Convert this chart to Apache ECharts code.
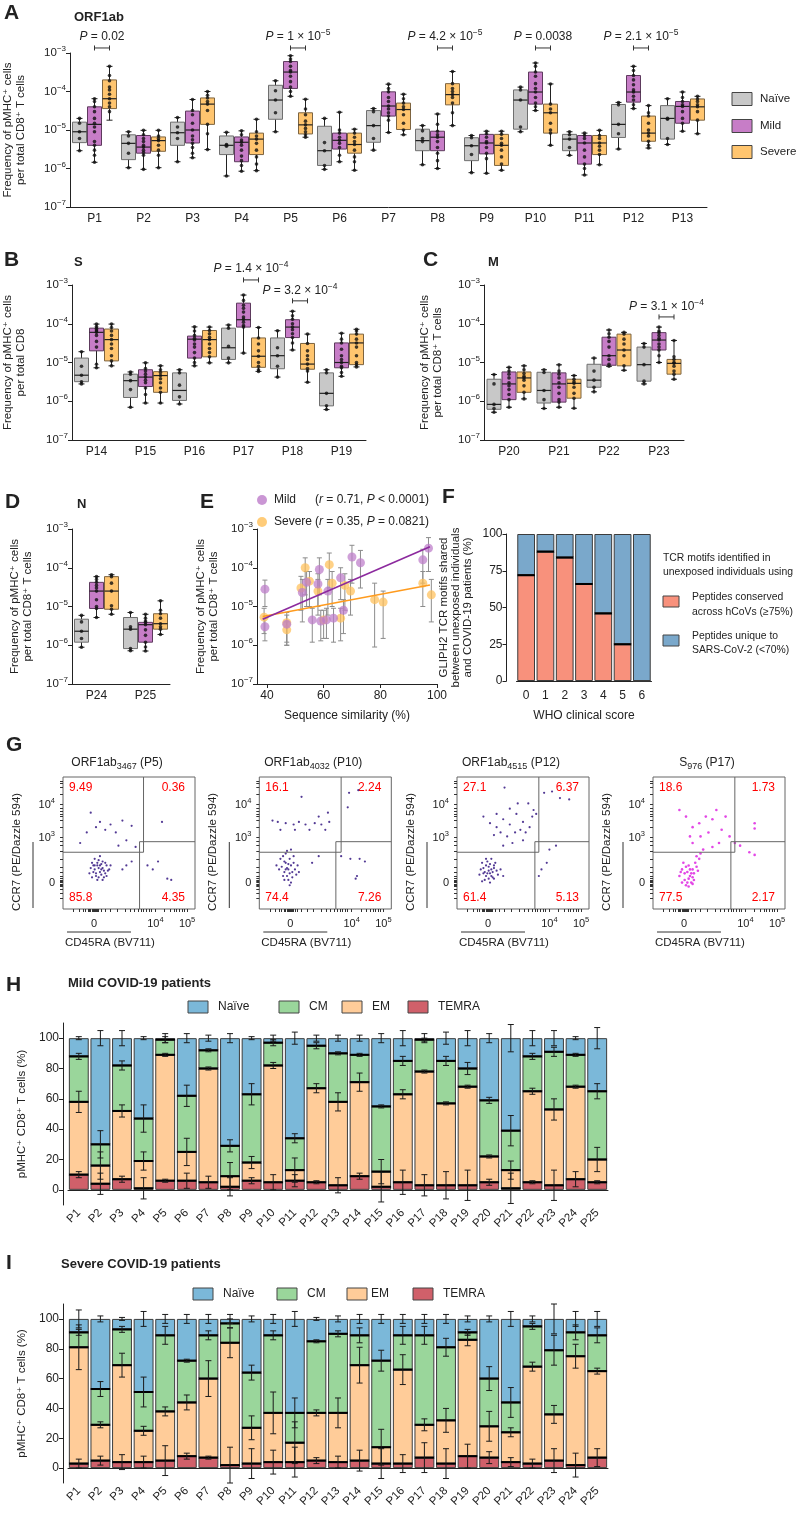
<!DOCTYPE html>
<html><head><meta charset="utf-8">
<script src="https://cdn.jsdelivr.net/npm/echarts@6/dist/echarts.min.js"></script>
<style>html,body{margin:0;padding:0;background:#fff}#c{width:797px;height:1525px}</style>
</head><body><div id="c"></div>
<script>
const FONT = "'Liberation Sans', Arial, 'DejaVu Sans', sans-serif";

// ---------------- Panels A-D : box plots (log scale) ----------------
const catsA = ['P1','P2','P3','P4','P5','P6','P7','P8','P9','P10','P11','P12','P13'];
const catsB = ['P14','P15','P16','P17','P18','P19'];
const catsC = ['P20','P21','P22','P23'];
const catsD = ['P24','P25'];
// [min, Q1, median, Q3, max]
const boxA_naive = [[2.9e-6,4.7e-6,9e-6,1.6e-5,2e-5],[1.05e-6,1.7e-6,4.5e-6,7.5e-6,9e-6],[1.5e-6,4e-6,8.5e-6,1.6e-5,2.1e-5],[6.4e-7,2.3e-6,4e-6,7e-6,8.7e-6],[9e-6,1.9e-5,6e-5,1.45e-4,1.9e-4],[9.5e-7,1.2e-6,2.9e-6,1.25e-5,2e-5],[3e-6,4.8e-6,1.3e-5,3.2e-5,3.6e-5],[1.25e-6,2.9e-6,5.3e-6,1.05e-5,1.3e-5],[7.8e-7,1.6e-6,3.9e-6,6.3e-6,7.2e-6],[9e-6,1.05e-5,6e-5,1.1e-4,1.3e-4],[2.2e-6,2.9e-6,5.8e-6,7.7e-6,9e-6],[3.2e-6,6.4e-6,1.4e-5,4.6e-5,5.2e-5],[4.2e-6,5.8e-6,2e-5,4.3e-5,6.5e-5]];
const boxA_mild = [[1.45e-6,4e-6,1.4e-5,4e-5,6.5e-5],[9.5e-7,2.5e-6,3.6e-6,7.2e-6,9.8e-6],[1.9e-6,4.6e-6,1e-5,3.1e-5,6.2e-5],[8.5e-7,1.5e-6,4.8e-6,6.6e-6,9.5e-6],[7.5e-5,1.2e-4,3.2e-4,6e-4,8.5e-4],[1.5e-6,3.2e-6,5.4e-6,8.3e-6,2.9e-5],[8.6e-6,2.3e-5,4.2e-5,9.8e-5,1.55e-4],[1e-6,2.9e-6,6.5e-6,9.3e-6,2.6e-5],[7.5e-7,2.4e-6,4.6e-6,7.7e-6,9.3e-6],[3.2e-5,4.7e-5,9.7e-5,3.2e-4,5.5e-4],[6.8e-7,1.3e-6,4.6e-6,7.2e-6,8.3e-6],[3.6e-5,5.3e-5,9.7e-5,2.6e-4,4.5e-4],[9.3e-6,1.5e-5,4.1e-5,5.5e-5,9.7e-5]];
const boxA_severe = [[1.8e-5,3.6e-5,6.5e-5,2e-4,4.5e-4],[1.05e-6,2.8e-6,5.3e-6,6.6e-6,9.8e-6],[3.1e-6,1.4e-5,4.7e-5,6.8e-5,1e-4],[8.8e-7,2.3e-6,5.8e-6,8.3e-6,1.9e-5],[6.5e-6,7.9e-6,1.36e-5,2.8e-5,6.3e-5],[9e-7,2.5e-6,4.2e-6,8.3e-6,1.05e-5],[7.5e-6,1.03e-5,3.4e-5,5e-5,8.5e-5],[1.3e-5,4.5e-5,8.3e-5,1.6e-4,3.3e-4],[9e-7,1.2e-6,4e-6,7.7e-6,9.3e-6],[4e-6,8.3e-6,2.8e-5,4.7e-5,1.57e-4],[1.25e-6,2.3e-6,4.6e-6,7.2e-6,9.8e-6],[3.4e-6,5.1e-6,8.3e-6,2.3e-5,4.3e-5],[8e-6,1.8e-5,4e-5,6.4e-5,7.5e-5]];
const dotsA_naive = [[2e-5,1.5e-5,9e-6,6e-6,2.9e-6],[9e-6,7e-6,4.5e-6,2.5e-6,1.05e-6],[2.1e-5,1.2e-5,8.5e-6,6e-6,1.5e-6],[8.7e-6,4.2e-6,4e-6,3.8e-6,6.4e-7],[1.9e-4,1.05e-4,6e-5,2.8e-5,9e-6],[2e-5,4.7e-6,2.9e-6,1.2e-6,9.5e-7],[3.6e-5,3e-5,1.3e-5,6e-6,3e-6],[1.3e-5,9.5e-6,6e-6,5e-6,1.25e-6],[7.2e-6,6.3e-6,3.9e-6,2.3e-6,7.8e-7],[1.3e-4,1.1e-4,6e-5,1.2e-5,9e-6],[9e-6,7.5e-6,5.8e-6,3.5e-6,2.2e-6],[5.2e-5,4.5e-5,1.4e-5,8e-6,3.2e-6],[6.5e-5,2e-5,1.9e-5,6e-6,4.2e-6]];
const dotsA_mild = [[6.5e-5,5.5e-5,4e-5,3e-5,2e-5,1.5e-5,1.2e-5,9e-6,5e-6,4e-6,3e-6,2.2e-6,1.45e-6],[9.8e-6,7.5e-6,6e-6,5e-6,4e-6,3.6e-6,3e-6,2.6e-6,2.2e-6,9.5e-7],[6.2e-5,3.2e-5,2.5e-5,1.5e-5,1e-5,7e-6,5.6e-6,4.5e-6,3.5e-6,2.5e-6,1.9e-6],[9.5e-6,7.5e-6,5.5e-6,4.8e-6,4e-6,3e-6,2.1e-6,1.6e-6,1.2e-6,8.5e-7],[8.5e-4,7e-4,6e-4,4.5e-4,3.5e-4,3.2e-4,2.5e-4,1.8e-4,1.3e-4,1e-4,7.5e-5],[2.9e-5,1e-5,8.3e-6,6.5e-6,5.4e-6,4.5e-6,3.5e-6,2.2e-6,1.5e-6],[1.55e-4,1.2e-4,9.8e-5,7e-5,5.5e-5,4.2e-5,3.5e-5,2.8e-5,2.3e-5,1.8e-5,8.6e-6],[2.6e-5,1.4e-5,9.3e-6,7.5e-6,6.5e-6,5e-6,3.5e-6,2.5e-6,1.6e-6,1e-6],[9.3e-6,8e-6,6.5e-6,5e-6,4.6e-6,3.5e-6,2.5e-6,1.8e-6,7.5e-7],[5.5e-4,4.5e-4,3.2e-4,2.5e-4,1.6e-4,1.2e-4,9.7e-5,7e-5,5e-5,4e-5,3.2e-5],[8.3e-6,7.2e-6,6e-6,4.6e-6,3e-6,2e-6,1.3e-6,1e-6,6.8e-7],[4.5e-4,3.5e-4,2.6e-4,2e-4,1.5e-4,1.1e-4,9.7e-5,7.5e-5,6e-5,4.5e-5,3.6e-5],[9.7e-5,7e-5,5.5e-5,4.5e-5,4.1e-5,3e-5,2e-5,1.5e-5,9.3e-6]];
const dotsA_severe = [[4.5e-4,2.6e-4,1.9e-4,1.3e-4,1.1e-4,8.5e-5,6.5e-5,5e-5,4e-5,3e-5],[9.8e-6,7e-6,6e-6,5.3e-6,4e-6,3e-6,2.2e-6,1.05e-6],[1e-4,8e-5,6.8e-5,5.5e-5,4.7e-5,3.2e-5,1.4e-5,8e-6,3.1e-6],[1.9e-5,9e-6,7e-6,5.8e-6,4.5e-6,3e-6,2e-6,1.3e-6,8.8e-7],[6.3e-5,3.5e-5,2.5e-5,1.7e-5,1.36e-5,1.1e-5,9e-6,7.5e-6,6.5e-6],[1.05e-5,8.3e-6,6.5e-6,5e-6,4.2e-6,3e-6,2e-6,1.5e-6,9e-7],[8.5e-5,6.5e-5,5e-5,4e-5,3.4e-5,2.5e-5,1.5e-5,1e-5,7.5e-6],[3.3e-4,1.6e-4,1.2e-4,1e-4,8.3e-5,7e-5,5e-5,2.8e-5,1.3e-5],[9.3e-6,7.7e-6,6e-6,4.5e-6,4e-6,3e-6,2e-6,1.3e-6,9e-7],[1.57e-4,4.7e-5,3.5e-5,2.8e-5,1.5e-5,1e-5,8.3e-6,4e-6],[9.8e-6,7.2e-6,6e-6,4.6e-6,3.8e-6,3e-6,2.3e-6,1.25e-6],[4.3e-5,2.8e-5,2.3e-5,1.5e-5,1e-5,8.3e-6,7e-6,5.1e-6,4e-6,3.4e-6],[7.5e-5,6.4e-5,5.5e-5,4.5e-5,4e-5,3e-5,1.8e-5,8e-6]];

const boxB_naive = [[2.8e-6,3.2e-6,4.7e-6,1.3e-5,1.9e-5],[7e-7,1.25e-6,3.4e-6,5e-6,5.7e-6],[8.5e-7,1.05e-6,1.9e-6,5.4e-6,6.5e-6],[9.8e-6,1.2e-5,2.4e-5,7.7e-5,9.3e-5],[4.2e-6,6.9e-6,1.5e-5,4.3e-5,6.6e-5],[6.1e-7,7.6e-7,1.6e-6,5.4e-6,6.5e-6]];
const boxB_mild = [[7.3e-6,2e-5,6e-5,7.7e-5,9.8e-5],[9e-7,2.4e-6,4.2e-6,6.5e-6,9.8e-6],[8.2e-6,1.3e-5,4e-5,4.8e-5,8.3e-5],[1.75e-5,8.2e-5,1.27e-4,3.4e-4,5.5e-4],[2.1e-5,4.4e-5,8.2e-5,1.27e-4,2.1e-4],[4.4e-6,7.3e-6,1e-5,3.2e-5,5.7e-5]];
const boxB_severe = [[8.2e-6,1.1e-5,3.9e-5,7.3e-5,9.8e-5],[9e-7,1.7e-6,4.6e-6,5.8e-6,8.2e-6],[9.8e-6,1.4e-5,3.9e-5,6.7e-5,8.2e-5],[5.9e-6,7.5e-6,1.45e-5,4.3e-5,8e-5],[3.1e-6,6.7e-6,9.1e-6,3.1e-5,5.4e-5],[7.7e-6,8.8e-6,3.2e-5,5.4e-5,7.2e-5]];
const dotsB_naive = [[1.9e-5,8e-6,4.7e-6,3.2e-6,2.8e-6],[5.7e-6,5e-6,3.4e-6,2e-6,7e-7],[6.5e-6,5.4e-6,2.6e-6,1.3e-6,8.5e-7],[9.3e-5,7.7e-5,2.6e-5,1.3e-5,9.8e-6],[6.6e-5,2.4e-5,1.5e-5,8e-6,4.2e-6],[6.5e-6,5.4e-6,1.6e-6,7.6e-7,6.1e-7]];
const dotsB_mild = [[9.8e-5,8.5e-5,7.7e-5,7e-5,6.5e-5,6e-5,5e-5,3.5e-5,2.5e-5,9e-6,7.3e-6],[9.8e-6,7e-6,6e-6,5e-6,4.2e-6,3.5e-6,3e-6,2.2e-6,1.5e-6,9e-7],[8.3e-5,6.5e-5,5e-5,4.2e-5,3.8e-5,3e-5,2.5e-5,1.8e-5,1.3e-5,1e-5,8.2e-6],[5.5e-4,4e-4,3e-4,2.5e-4,2e-4,1.5e-4,1.3e-4,1.1e-4,9e-5,8.2e-5,1.75e-5],[2.1e-4,1.6e-4,1.3e-4,1e-4,8.2e-5,7e-5,5.5e-5,4.4e-5,3.2e-5,2.1e-5],[5.7e-5,4e-5,3.2e-5,2.2e-5,1.5e-5,1.2e-5,1e-5,8e-6,7.3e-6,5.5e-6,4.4e-6]];
const dotsB_severe = [[9.8e-5,8e-5,6.5e-5,5e-5,3.9e-5,3e-5,2.3e-5,1.5e-5,1.1e-5,8.2e-6],[8.2e-6,6.5e-6,5.5e-6,4.6e-6,3.8e-6,3e-6,2.2e-6,1.7e-6,9e-7],[8.2e-5,6.7e-5,5.5e-5,4.5e-5,3.9e-5,3e-5,2.3e-5,1.8e-5,1.4e-5,9.8e-6],[8e-5,4.3e-5,3e-5,2e-5,1.45e-5,1e-5,8e-6,6.5e-6,5.9e-6],[5.4e-5,3.1e-5,2e-5,1.5e-5,1.2e-5,9.1e-6,7e-6,6e-6,3.1e-6],[7.2e-5,6.5e-5,5.4e-5,4e-5,3.2e-5,2.5e-5,1.5e-5,1e-5,8.8e-6,7.7e-6]];

const boxC_naive = [[5.2e-7,6.2e-7,8.3e-7,3.7e-6,4.9e-6],[6.5e-7,9e-7,1.9e-6,5.6e-6,6.5e-6],[1.75e-6,2.3e-6,3.5e-6,9e-6,1.3e-5],[2.8e-6,3.3e-6,8.8e-6,2.5e-5,3.1e-5]];
const boxC_mild = [[7e-7,1.1e-6,2.8e-6,5.7e-6,7.5e-6],[7e-7,9.5e-7,2.8e-6,5.4e-6,8.7e-6],[8e-6,8.5e-6,1.5e-5,4.5e-5,6.9e-5],[1e-5,2.1e-5,3.8e-5,5.9e-5,8.2e-5]];
const boxC_severe = [[1.15e-6,1.7e-6,4e-6,5.7e-6,8.2e-6],[6.6e-7,1.2e-6,2.9e-6,3.7e-6,4.6e-6],[6.3e-6,8.2e-6,2.1e-5,5.4e-5,6e-5],[3.7e-6,5e-6,9.5e-6,1.2e-5,3.7e-5]];
const dotsC_naive = [[4.9e-6,2.8e-6,8.3e-7,6.5e-7,5.2e-7],[6.5e-6,5.5e-6,1.9e-6,1.1e-6,6.5e-7],[1.3e-5,6e-6,3.5e-6,2.3e-6,1.75e-6],[3.1e-5,2.5e-5,8.8e-6,3.3e-6,2.8e-6]];
const dotsC_mild = [[7.5e-6,6e-6,5e-6,4e-6,3e-6,2.5e-6,2e-6,1.5e-6,1.1e-6,7e-7],[8.7e-6,6e-6,5e-6,4e-6,3e-6,2.3e-6,1.6e-6,1.1e-6,9.5e-7,7e-7],[6.9e-5,5.5e-5,4.5e-5,3.5e-5,2.5e-5,1.5e-5,1.2e-5,9e-6,8e-6],[8.2e-5,6.5e-5,5.9e-5,5e-5,4.2e-5,3.8e-5,3e-5,2.5e-5,2.1e-5,1.5e-5,1e-5]];
const dotsC_severe = [[8.2e-6,6.5e-6,5.2e-6,4.4e-6,4e-6,3.5e-6,2.5e-6,1.7e-6,1.15e-6],[4.6e-6,3.7e-6,3.2e-6,2.9e-6,2.3e-6,1.6e-6,1.2e-6,6.6e-7],[6e-5,5.4e-5,4e-5,3e-5,2.1e-5,1.5e-5,8.2e-6,6.3e-6],[3.7e-5,1.4e-5,1.2e-5,1e-5,9.5e-6,8e-6,6e-6,5e-6,3.7e-6]];

const boxD_naive = [[8.9e-7,1.2e-6,2.3e-6,4.7e-6,5.9e-6],[7.2e-7,8.2e-7,2.6e-6,5.2e-6,7e-6]];
const boxD_mild = [[5.2e-6,8.9e-6,2.5e-5,4.2e-5,5.9e-5],[7.1e-7,1.2e-6,3.4e-6,3.9e-6,6.3e-6]];
const boxD_severe = [[6.3e-6,8.5e-6,2.5e-5,5.9e-5,6.6e-5],[1.9e-6,2.6e-6,3.6e-6,6.5e-6,1.4e-5]];
const dotsD_naive = [[5.9e-6,4e-6,2.3e-6,1.5e-6,8.9e-7],[7e-6,3e-6,2.6e-6,8.2e-7,7.2e-7]];
const dotsD_mild = [[5.9e-5,5e-5,4.2e-5,3.5e-5,3e-5,2.5e-5,1.5e-5,1e-5,8.9e-6,5.2e-6],[6.3e-6,5e-6,4.2e-6,3.9e-6,3.4e-6,2.5e-6,1.8e-6,1.2e-6,9e-7,7.1e-7]];
const dotsD_severe = [[6.6e-5,5.9e-5,4e-5,2.5e-5,1.05e-5,8.5e-6,6.3e-6],[1.4e-5,8e-6,6.5e-6,5e-6,3.6e-6,3e-6,2.6e-6,1.9e-6]];

// P value annotations: category index and label (mantissa|exponent)
const annA_cat = [0,4,7,9,11];
const annA_txt = ['0.02','1 × 10|−5','4.2 × 10|−5','0.0038','2.1 × 10|−5'];
const annB_cat = [3,4];
const annB_txt = ['1.4 × 10|−4','3.2 × 10|−4'];
const annC_cat = [3];
const annC_txt = ['3.1 × 10|−4'];

// ---------------- Panel E ----------------
// [sequence similarity %, frequency, lower, upper]
const eMild = [[39.3,3e-6,1.3e-6,5e-6],[39.3,2.8e-5,1e-5,4.8e-5],[47,3.5e-6,1.2e-6,6e-6],[52.5,2.3e-5,4e-6,5e-5],[54,4.2e-5,1e-5,8e-5],[56,4.5e-6,1.2e-6,9e-6],[58,3.8e-5,1e-5,7e-5],[58.5,9e-5,2e-5,1.8e-4],[59,4.2e-6,1.3e-6,8e-6],[61,4.5e-6,1.5e-6,9e-6],[61.5,2.5e-5,6e-6,5e-5],[63.5,5e-6,1.2e-6,9e-6],[66,5.5e-5,1.5e-5,1e-4],[67,8e-6,2e-6,1.5e-5],[70,1.9e-4,4e-5,3.8e-4],[73,1.35e-4,3e-5,2.8e-4],[95,1.6e-4,4e-5,3e-4],[97,3.2e-4,8e-5,6e-4]];
const eSevere = [[39,5.3e-6,2e-6,9e-6],[47,2.5e-6,1e-6,4e-6],[47,3.8e-6,1e-6,7e-6],[52,3e-5,8e-6,6e-5],[53.5,1e-4,2e-5,1.8e-4],[55,4.5e-5,1e-5,8e-5],[58,2.5e-5,6e-6,5e-5],[60,4.5e-6,1.5e-6,8e-6],[62,1.2e-4,3e-5,2.4e-4],[63,4e-5,1e-5,8e-5],[66,5e-6,1.3e-6,9e-6],[67.5,3.5e-5,8e-6,7e-5],[69.5,2.5e-5,6e-6,5e-5],[78,1.5e-5,9e-7,4e-5],[81,1.3e-5,1.5e-6,2.5e-5],[95,4e-5,1e-5,8e-5],[98,2e-5,4e-6,5e-5]];
const fitMild = [[38.5,4.7e-6],[97.5,3.5e-4]];
const fitSevere = [[38.5,5.5e-6],[97.5,3.6e-5]];

// ---------------- Panel F ----------------
const whoScore = ['0','1','2','3','4','5','6'];
const fConserved = [72,88,84,66,46,25,0];

// ---------------- Panel G : flow plots (display units 0-100) ----------------
const flowTitles = [['ORF1ab','3467',' (P5)'],['ORF1ab','4032',' (P10)'],['ORF1ab','4515',' (P12)'],['S','976',' (P17)']];
const flowQuad = [['9.49','0.36','85.8','4.35'],['16.1','2.24','74.4','7.26'],['27.1','6.37','61.4','5.13'],['18.6','1.73','77.5','2.17']];
const flowGateX = [[61,58],[62,58],[62,59],[62,59]];
const flow1 = [[22,35],[24,30],[26,33],[28,28],[30,31],[32,27],[25,25],[27,37],[29,34],[31,24],[33,33],[23,28],[26,22],[28,40],[30,36],[34,29],[21,31],[24,38],[29,26],[32,35],[27,31],[25,27],[30,22],[35,30],[20,27],[26,35],[31,29],[28,33],[23,33],[33,25],[29,30],[27,24],[24,33],[36,33],[22,24],[21,73],[13,50],[28,66],[36,64],[40,58],[45,67],[48,52],[52,63],[18,58],[25,62],[32,60],[55,47],[42,48],[48,33],[52,36],[45,30],[75,66],[64,33],[72,36],[79,23],[82,22],[68,30]];
const flow2 = [[18,40],[20,35],[22,30],[24,33],[19,28],[21,25],[23,38],[25,28],[17,32],[22,22],[24,45],[20,42],[26,35],[21,31],[19,36],[23,27],[25,24],[27,30],[18,25],[22,34],[24,20],[20,30],[16,38],[28,26],[23,18],[21,44],[15,30],[26,40],[29,33],[19,22],[13,33],[30,28],[10,67],[14,66],[20,65],[26,64],[30,66],[35,64],[38,60],[42,65],[47,64],[50,60],[53,66],[16,60],[27,60],[45,70],[52,73],[32,85],[67,77],[68,88],[75,90],[62,40],[69,38],[74,25],[73,23],[76,38],[80,36],[45,40],[40,35]];
const flow3 = [[18,30],[20,27],[22,33],[24,29],[26,25],[28,31],[21,22],[23,36],[25,20],[27,28],[19,35],[22,25],[24,32],[26,38],[28,23],[30,29],[20,31],[23,27],[25,34],[27,24],[21,28],[24,23],[26,30],[29,35],[31,26],[17,26],[22,38],[25,27],[33,30],[35,25],[19,21],[28,33],[20,70],[25,65],[30,62],[35,68],[40,64],[45,72],[48,60],[50,66],[52,58],[55,62],[57,70],[58,75],[60,72],[33,58],[38,55],[28,56],[44,58],[42,50],[35,48],[50,52],[46,80],[40,76],[54,80],[36,92],[30,72],[66,88],[72,89],[78,84],[85,83],[70,45],[75,48],[64,30],[62,25],[68,35]];
const flow4 = [[20,25],[22,30],[24,22],[26,28],[28,25],[30,30],[25,18],[27,33],[29,20],[31,27],[23,35],[33,32],[35,38],[27,23],[24,27],[26,20],[28,30],[30,24],[32,35],[22,20],[25,32],[29,27],[31,22],[34,29],[36,42],[38,45],[33,40],[21,28],[27,17],[30,19],[20,75],[25,70],[30,62],[35,65],[40,70],[45,68],[48,75],[52,60],[55,70],[58,55],[42,58],[36,55],[30,50],[50,50],[45,47],[28,55],[77,61],[77,65],[73,43],[77,41],[66,48],[62,50]];

// ---------------- Panels H and I : stacked subsets ----------------
const patients = ['P1','P2','P3','P4','P5','P6','P7','P8','P9','P10','P11','P12','P13','P14','P15','P16','P17','P18','P19','P20','P21','P22','P23','P24','P25'];
// cumulative tops: TEMRA, EM, CM (Naïve up to 100)
const mildTEMRA = [10,4,7,1,6,6,5,2,6,5,6,5,3,9,2,5,3,3,3,5,1,5,3,7,5];
const mildEM    = [58,16,52,19,89,25,80,9,18,82,13,67,58,71,12,63,78,57,68,22,13,65,53,68,20];
const mildCM    = [88,30,82,47,99,62,92,29,63,97,34,95,90,89,55,85,99,85,80,59,39,88,91,89,65];
// error half-widths at TEMRA, EM, CM, Naïve tops
const mildErr = [[2,7,2,1],[7,9,9,5],[2,4,3,5],[7,6,9,1],[1,1,2,3],[5,9,7,3],[4,1,1,2],[6,9,4,3],[2,4,7,1],[5,2,2,2],[4,8,3,4],[1,3,2,2],[5,6,1,2],[2,6,1,2],[10,8,1,3],[8,3,3,5],[7,1,1,3],[9,1,3,4],[10,1,4,5],[2,1,2,3],[10,6,10,9],[1,2,2,5],[10,7,3,5],[5,1,1,1],[1,8,5,7]];
const sevTEMRA = [3,5,4,4,5,8,7,2,3,4,4,5,4,5,3,3,7,3,8,7,4,3,5,2,7];
const sevEM    = [81,29,69,25,38,44,60,84,27,37,17,37,37,69,14,66,29,32,86,28,24,68,36,75,65];
const sevCM    = [91,53,93,51,89,72,89,97,64,89,37,85,90,89,72,89,89,81,91,60,44,95,79,91,89];
const sevErr = [[3,15,2,6],[3,2,5,2],[5,8,2,1],[4,3,10,5],[10,3,6,3],[2,5,1,3],[1,12,3,3],[12,10,3,3],[10,8,5,2],[8,14,3,3],[10,14,10,5],[2,2,1,1],[4,10,2,2],[7,12,5,3],[10,12,7,3],[6,10,6,3],[10,4,6,3],[10,8,6,3],[8,4,2,2],[4,10,8,2],[3,3,10,5],[3,3,2,2],[8,6,10,10],[8,8,5,5],[6,2,5,5]];

// ======================================================================
const COLORS = {naive:'#C8C8C8', mild:'#C77DC7', severe:'#FFC56F'};
const BOX_FILL = [COLORS.naive, COLORS.mild, COLORS.severe];
const BOX_STROKE = ['#6f6f6f','#5d3a5d','#7d6440'];
const GROUP_OFF = [-15, 0, 15];
const BOX_W = 14;
const AX = '#222';

const richAxis = {
  b:{fontSize:11.5, fontFamily:FONT, color:AX, lineHeight:14},
  s:{fontSize:8, fontFamily:FONT, color:AX, lineHeight:10, padding:[0,0,8,0]}
};
const richZ = {
  i:{fontSize:12, fontFamily:FONT, fontStyle:'italic', fill:AX, lineHeight:14},
  t:{fontSize:12, fontFamily:FONT, fill:AX, lineHeight:14},
  s:{fontSize:8.5, fontFamily:FONT, fill:AX, lineHeight:10, padding:[0,0,8,0]}
};
function pRich(str){
  const parts = str.split('|');
  return '{i|P}{t| = ' + parts[0] + '}' + (parts.length > 1 ? '{s|' + parts[1] + '}' : '');
}

function boxRender(g){
  return function(params, api){
    const i = api.value(0);
    const ys = [1,2,3,4,5].map(k => api.coord([i, api.value(k)])[1]);
    const cx = api.coord([i, api.value(3)])[0] + GROUP_OFF[g];
    const h = BOX_W/2;
    const ln = (x1,y1,x2,y2,w) => ({type:'line', shape:{x1,y1,x2,y2}, style:{stroke:'#222', lineWidth:w||1}});
    return {type:'group', children:[
      ln(cx, ys[4], cx, ys[0]),
      ln(cx-3, ys[4], cx+3, ys[4]),
      ln(cx-3, ys[0], cx+3, ys[0]),
      {type:'rect', shape:{x:cx-h, y:ys[3], width:BOX_W, height:ys[1]-ys[3]}, style:{fill:BOX_FILL[g], stroke:BOX_STROKE[g], lineWidth:1}},
      ln(cx-h, ys[2], cx+h, ys[2], 1.2)
    ]};
  };
}
function annSeries(g, cats, txts, yText, yBar){
  return {type:'custom', xAxisIndex:g, yAxisIndex:g, z:6, silent:true, clip:false,
    data: cats.map((c,i) => [c, yText[i], yBar[i]]),
    encode:{x:0, y:1},
    renderItem:(params, api) => {
      const c = api.value(0);
      const pb = api.coord([c, api.value(2)]);
      const pt = api.coord([c, api.value(1)]);
      const x1 = pb[0] + GROUP_OFF[1], x2 = pb[0] + GROUP_OFF[2], yb = pb[1];
      const st = {stroke:'#333', lineWidth:1};
      return {type:'group', children:[
        {type:'line', shape:{x1:x1, y1:yb, x2:x2, y2:yb}, style:st},
        {type:'line', shape:{x1:x1, y1:yb-2.5, x2:x1, y2:yb+2.5}, style:st},
        {type:'line', shape:{x1:x2, y1:yb-2.5, x2:x2, y2:yb+2.5}, style:st},
        {type:'text', x:(x1+x2)/2, y:pt[1], style:{text:pRich(txts[params.dataIndex]), align:'center', verticalAlign:'middle', rich:richZ}}
      ]};
    }};
}
function boxPanel(g, boxes, dots){
  const out = [];
  boxes.forEach((bx, k) => out.push({type:'custom', xAxisIndex:g, yAxisIndex:g, z:2, silent:true,
    data: bx.map((d,i) => [i].concat(d)), encode:{x:0, y:[1,2,3,4,5]}, renderItem: boxRender(k)}));
  dots.forEach((ds, k) => {
    const data = [];
    ds.forEach((arr,i) => arr.forEach(v => data.push([i, v])));
    out.push({type:'scatter', xAxisIndex:g, yAxisIndex:g, z:3, silent:true, symbolSize:3.6,
      symbolOffset:[GROUP_OFF[k],0], itemStyle:{color:'#111'}, data});
  });
  return out;
}
function logY(g, name, gap){
  return {type:'log', logBase:10, min:1e-7, max:1e-3, gridIndex:g,
    axisLine:{show:true, lineStyle:{color:AX}}, axisTick:{show:true, length:4, lineStyle:{color:AX}},
    splitLine:{show:false}, minorTick:{show:false},
    axisLabel:{margin:4, formatter: v => { const e = Math.round(Math.log10(v)); return '{b|10}{s|−' + Math.abs(e) + '}'; }, rich:richAxis},
    name, nameLocation:'middle', nameGap:gap, nameRotate:90,
    nameTextStyle:{fontSize:11.5, fontFamily:FONT, color:AX, lineHeight:13.5}};
}
function catX(g, cats){
  return {type:'category', data:cats, gridIndex:g,
    axisLine:{lineStyle:{color:AX}}, axisTick:{alignWithLabel:true, length:4, lineStyle:{color:AX}},
    axisLabel:{fontSize:12, fontFamily:FONT, color:AX, margin:6}};
}
function errSeries(g, pts){
  return {type:'custom', xAxisIndex:g, yAxisIndex:g, z:2, silent:true, data:pts, encode:{x:0, y:[2,3]},
    renderItem:(p, api) => {
      const x = api.value(0);
      const a = api.coord([x, api.value(3)]), b = api.coord([x, api.value(2)]);
      const st = {stroke:'#8c8c8c', lineWidth:1};
      return {type:'group', children:[
        {type:'line', shape:{x1:a[0], y1:a[1], x2:b[0], y2:b[1]}, style:st},
        {type:'line', shape:{x1:a[0]-2.5, y1:a[1], x2:a[0]+2.5, y2:a[1]}, style:st},
        {type:'line', shape:{x1:b[0]-2.5, y1:b[1], x2:b[0]+2.5, y2:b[1]}, style:st}]};
    }};
}
function stackOverlay(g, t, e, c, err){
  return {type:'custom', xAxisIndex:g, yAxisIndex:g, z:5, silent:true, clip:false,
    data: t.map((v,i) => [i, v, e[i], c[i], 100, err[i][0], err[i][1], err[i][2], err[i][3]]),
    encode:{x:0, y:[1,2,3,4]},
    renderItem:(params, api) => {
      const i = api.value(0);
      const bw = api.size([1,0])[0] * 0.92;
      const cx = api.coord([i, 0])[0];
      const ch = [];
      for (let k = 0; k < 4; k++){
        const v = api.value(1+k), er = api.value(5+k);
        const y = api.coord([i, v])[1];
        if (k < 3) ch.push({type:'line', shape:{x1:cx-bw/2, y1:y, x2:cx+bw/2, y2:y}, style:{stroke:'#000', lineWidth:2}});
        if (er > 0){
          const ya = api.coord([i, v+er])[1], yb = api.coord([i, v-er])[1];
          const st = {stroke:'#1a1a1a', lineWidth:1};
          ch.push({type:'line', shape:{x1:cx, y1:ya, x2:cx, y2:yb}, style:st});
          ch.push({type:'line', shape:{x1:cx-3, y1:ya, x2:cx+3, y2:ya}, style:st});
          ch.push({type:'line', shape:{x1:cx-3, y1:yb, x2:cx+3, y2:yb}, style:st});
        }
      }
      return {type:'group', children:ch};
    }};
}
function stackBars(g, t, e, c){
  const seg = [t, t.map((v,i) => e[i]-v), e.map((v,i) => c[i]-v), c.map(v => 100-v)];
  const cols = ['#D0606A','#FFCC99','#9AD69B','#7BB8D9'];
  return seg.map((d,k) => ({type:'bar', xAxisIndex:g, yAxisIndex:g, stack:'s'+g, data:d, barCategoryGap:'8%',
    silent:true, itemStyle:{color:cols[k], borderColor:'#3c3c3c', borderWidth:1}}));
}

// ---------------- grids & axes ----------------
const FLOW_LEFT = [63, 259.3, 457, 653];
const NB = {outerBoundsMode:'none', containLabel:false};
const grids = [
  {left:70, top:53, width:637, height:154},
  {left:72, top:285, width:294, height:155},
  {left:484, top:285, width:200, height:155},
  {left:72, top:529, width:98, height:155},
  {left:257, top:529, width:180, height:155},
  {left:516.5, top:534, width:135, height:147}
];
FLOW_LEFT.forEach(l => grids.push({left:l, top:777, width:132, height:132, show:true, borderColor:'#666', borderWidth:1, backgroundColor:'transparent'}));
grids.push({left:68, top:1023, width:540, height:182});
grids.push({left:68, top:1304, width:540, height:179});
grids.forEach(g => Object.assign(g, NB));

const yLab2 = 'Frequency of pMHC⁺ cells\nper total CD8⁺ T cells';
const xAxes = [catX(0, catsA), catX(1, catsB), catX(2, catsC), catX(3, catsD),
  {type:'value', gridIndex:4, min:36.5, max:100, axisLine:{lineStyle:{color:AX}}, splitLine:{show:false},
   axisTick:{customValues:[40,60,80,100], length:4, lineStyle:{color:AX}},
   axisLabel:{customValues:[40,60,80,100], fontSize:12, fontFamily:FONT, color:AX, margin:6},
   name:'Sequence similarity (%)', nameLocation:'middle', nameGap:26, nameTextStyle:{fontSize:12, fontFamily:FONT, color:AX}},
  {type:'category', gridIndex:5, data:whoScore, offset:3, axisLine:{lineStyle:{color:AX}},
   axisTick:{alignWithLabel:true, length:4, lineStyle:{color:AX}},
   axisLabel:{fontSize:12, fontFamily:FONT, color:AX, margin:6},
   name:'WHO clinical score', nameLocation:'middle', nameGap:26, nameTextStyle:{fontSize:12, fontFamily:FONT, color:AX}}
];
const yAxes = [logY(0, yLab2, 42), logY(1, 'Frequency of pMHC⁺ cells\nper total CD8', 44), logY(2, yLab2, 39),
  logY(3, yLab2, 37), logY(4, yLab2, 36),
  {type:'value', gridIndex:5, min:0, max:100, interval:25, offset:10, axisLine:{show:true, lineStyle:{color:AX}},
   axisTick:{show:true, length:4, lineStyle:{color:AX}}, splitLine:{show:false},
   axisLabel:{fontSize:12, fontFamily:FONT, color:AX, margin:4},
   name:'GLIPH2 TCR motifs shared\nbetween unexposed individuals\nand COVID-19 patients (%)', nameLocation:'middle', nameGap:33, nameRotate:90,
   nameTextStyle:{fontSize:11.5, fontFamily:FONT, color:AX, lineHeight:12}}
];
const flowRich = {b:{fontSize:11, fontFamily:FONT, color:AX, lineHeight:13}, s:{fontSize:7.5, fontFamily:FONT, color:AX, lineHeight:9, padding:[0,0,7,0]}};
for (let k = 0; k < 4; k++){
  const g = 6 + k;
  xAxes.push({type:'value', gridIndex:g, min:0, max:100, axisLine:{show:false}, splitLine:{show:false},
    axisTick:{show:true, inside:false, length:3, lineStyle:{color:'#333'}, customValues:[8,12,15,17,19,20,21,22,22.5,23,23.5,24,24.5,25,26,27,29,32,36,41,47,51,54,57,59,61,63,65,67,70,77,81,84,86,88,90,92,94]},
    axisLabel:{customValues:[23.5,70,94], margin:8, rich:flowRich, formatter: v => v < 30 ? '{b|0}' : (v < 80 ? '{b|10}{s|4}' : '{b|10}{s|5}')}});
  yAxes.push({type:'value', gridIndex:g, min:0, max:100, axisLine:{show:false}, splitLine:{show:false},
    axisTick:{show:true, length:3, lineStyle:{color:'#333'}, customValues:[8,12,15,17,18,19,20,21,22,23,25,28,32,38,44,48,51,54,62,67,70,72,74,76,79,87,92,95,97]},
    axisLabel:{customValues:[20,54,79], margin:8, rich:flowRich, formatter: v => v < 30 ? '{b|0}' : (v < 60 ? '{b|10}{s|3}' : '{b|10}{s|4}')}});
}
[10,11].forEach(g => {
  xAxes.push({type:'category', gridIndex:g, data:patients, axisLine:{lineStyle:{color:AX}},
    axisTick:{alignWithLabel:true, length:5, lineStyle:{color:AX}},
    axisLabel:{rotate:45, fontSize:11.5, fontFamily:FONT, color:AX, margin:6, interval:0}});
  yAxes.push({type:'value', gridIndex:g, min:-10, max:110, offset:5, axisLine:{show:true, lineStyle:{color:AX}},
    splitLine:{show:false}, axisTick:{show:true, length:4, lineStyle:{color:AX}, customValues:[0,20,40,60,80,100]},
    axisLabel:{customValues:[0,20,40,60,80,100], fontSize:12, fontFamily:FONT, color:AX, margin:4},
    name:'pMHC⁺ CD8⁺ T cells (%)', nameLocation:'middle', nameGap:30, nameRotate:90,
    nameTextStyle:{fontSize:11.5, fontFamily:FONT, color:AX}});
});

// ---------------- series ----------------
let series = [];
series = series.concat(boxPanel(0, [boxA_naive, boxA_mild, boxA_severe], [dotsA_naive, dotsA_mild, dotsA_severe]));
series.push(annSeries(0, annA_cat, annA_txt, annA_cat.map(() => 2.7e-3), annA_cat.map(() => 1.35e-3)));
series = series.concat(boxPanel(1, [boxB_naive, boxB_mild, boxB_severe], [dotsB_naive, dotsB_mild, dotsB_severe]));
series.push(annSeries(1, annB_cat, annB_txt, [2.6e-3, 7e-4], [1.35e-3, 3.9e-4]));
series = series.concat(boxPanel(2, [boxC_naive, boxC_mild, boxC_severe], [dotsC_naive, dotsC_mild, dotsC_severe]));
series.push(annSeries(2, annC_cat, annC_txt, [2.7e-4], [1.5e-4]));
series = series.concat(boxPanel(3, [boxD_naive, boxD_mild, boxD_severe], [dotsD_naive, dotsD_mild, dotsD_severe]));
// E
series.push(errSeries(4, eMild), errSeries(4, eSevere));
series.push({type:'scatter', xAxisIndex:4, yAxisIndex:4, z:3, silent:true, symbolSize:9, data:eSevere.map(p => [p[0], p[1]]), itemStyle:{color:'#FFBF57', opacity:0.72}});
series.push({type:'scatter', xAxisIndex:4, yAxisIndex:4, z:3, silent:true, symbolSize:9, data:eMild.map(p => [p[0], p[1]]), itemStyle:{color:'#BD7CC9', opacity:0.72}});
series.push({type:'line', xAxisIndex:4, yAxisIndex:4, z:4, silent:true, symbol:'none', data:fitSevere, lineStyle:{color:'#FF9B1E', width:1.6}});
series.push({type:'line', xAxisIndex:4, yAxisIndex:4, z:4, silent:true, symbol:'none', data:fitMild, lineStyle:{color:'#8C2A9E', width:1.6}});
// F
series.push({type:'bar', xAxisIndex:5, yAxisIndex:5, stack:'f', silent:true, data:fConserved, barCategoryGap:'8%', itemStyle:{color:'#F8917C', borderColor:'#3c3c3c', borderWidth:1}});
series.push({type:'bar', xAxisIndex:5, yAxisIndex:5, stack:'f', silent:true, data:fConserved.map(v => 100 - v), barCategoryGap:'8%', itemStyle:{color:'#7AA8CB', borderColor:'#3c3c3c', borderWidth:1}});
series.push({type:'custom', xAxisIndex:5, yAxisIndex:5, z:5, silent:true, data:fConserved.map((v,i) => [i, v]), encode:{x:0, y:1},
  renderItem:(p, api) => {
    const v = api.value(1);
    if (v <= 0 || v >= 100) return null;
    const c = api.coord([api.value(0), v]); const bw = api.size([1,0])[0] * 0.92;
    return {type:'line', shape:{x1:c[0]-bw/2, y1:c[1], x2:c[0]+bw/2, y2:c[1]}, style:{stroke:'#000', lineWidth:2}};
  }});
// G
const flowData = [flow1, flow2, flow3, flow4];
flowData.forEach((d,k) => {
  const g = 6 + k;
  series.push({type:'scatter', xAxisIndex:g, yAxisIndex:g, silent:true, symbolSize:k === 3 ? 2.6 : 2.2, data:d,
    itemStyle:{color:k === 3 ? '#E033E3' : '#3F2388', opacity:0.9}});
  series.push({type:'line', xAxisIndex:g, yAxisIndex:g, silent:true, symbol:'none', data:[[0,43],[flowGateX[k][0],43],[flowGateX[k][0],100]], lineStyle:{color:'#666', width:1}});
  series.push({type:'line', xAxisIndex:g, yAxisIndex:g, silent:true, symbol:'none', data:[[flowGateX[k][1],0],[flowGateX[k][1],51],[100,51]], lineStyle:{color:'#666', width:1}});
});
// H, I
series = series.concat(stackBars(10, mildTEMRA, mildEM, mildCM));
series.push(stackOverlay(10, mildTEMRA, mildEM, mildCM, mildErr));
series = series.concat(stackBars(11, sevTEMRA, sevEM, sevCM));
series.push(stackOverlay(11, sevTEMRA, sevEM, sevCM, sevErr));

// ---------------- graphic text ----------------
const G = [];
function T(x, y, text, o){
  o = o || {};
  G.push({type:'text', x, y, rotation:o.rot || 0, silent:true, style:{text, fill:o.color || AX,
    font:(o.italic ? 'italic ' : '') + (o.bold ? 'bold ' : '') + (o.size || 12) + 'px ' + FONT,
    align:o.align || 'left', verticalAlign:o.va || 'middle', rich:o.rich}});
}
function R(x, y, w, h, fill){ G.push({type:'rect', silent:true, shape:{x, y, width:w, height:h}, style:{fill, stroke:'#444', lineWidth:1}}); }
function L(x1, y1, x2, y2, c){ G.push({type:'line', silent:true, shape:{x1, y1, x2, y2}, style:{stroke:c || '#333', lineWidth:1}}); }
// panel letters and titles
[['A',4,13],['B',4,260],['C',423,260],['D',5,502],['E',200,502],['F',442,497],['G',6,745],['H',6,985],['I',6,1263]].forEach(a => T(a[1], a[2], a[0], {bold:true, size:21}));
T(74, 17, 'ORF1ab', {bold:true, size:13});
T(74, 262, 'S', {bold:true, size:13});
T(488, 262, 'M', {bold:true, size:13});
T(77, 504, 'N', {bold:true, size:13});
T(68, 983, 'Mild COVID-19 patients', {bold:true, size:13});
T(61, 1264, 'Severe COVID-19 patients', {bold:true, size:13});
// legend A
[['Naïve',99],['Mild',126],['Severe',152]].forEach((it,k) => { R(732, it[1]-6.5, 20, 13, BOX_FILL[k]); T(760, it[1], it[0], {size:11.5}); });
// legend E
G.push({type:'circle', silent:true, shape:{cx:262, cy:500, r:5}, style:{fill:'#BD7CC9', opacity:0.8}});
G.push({type:'circle', silent:true, shape:{cx:262, cy:522, r:5}, style:{fill:'#FFBF57', opacity:0.8}});
T(274, 500, 'Mild', {size:12}); T(274, 522, 'Severe', {size:12});
const richR = {n:{fontSize:12, fontFamily:FONT, fill:AX}, i:{fontSize:12, fontFamily:FONT, fontStyle:'italic', fill:AX}};
T(315, 500, '{n|(}{i|r}{n| = 0.71, }{i|P}{n| < 0.0001)}', {rich:richR});
T(315, 522, '{n|(}{i|r}{n| = 0.35, }{i|P}{n| = 0.0821)}', {rich:richR});
// legend F
T(663, 558, 'TCR motifs identified in', {size:10.4});
T(663, 572, 'unexposed individuals using', {size:10.4});
R(663, 596, 16, 11, '#F8917C'); T(692, 597, 'Peptides conserved', {size:10.4}); T(692, 612, 'across hCoVs (≥75%)', {size:10.4});
R(663, 635, 16, 11, '#7AA8CB'); T(692, 636, 'Peptides unique to', {size:10.4}); T(692, 650, 'SARS-CoV-2 (<70%)', {size:10.4});
// legends H and I
const subsetCols = ['#7BB8D9','#9AD69B','#FFCC99','#D0606A'];
const subsetNames = ['Naïve','CM','EM','TEMRA'];
[[188,279,342,408],[193,277,347,413]].forEach((xs,row) => {
  const y = row === 0 ? 1007 : 1294;
  xs.forEach((x,k) => { R(x, y-6, 20, 12, subsetCols[k]); T(x+(k === 2 && row === 1 ? 24 : 30), y, subsetNames[k], {size:12}); });
});
// flow plot annotations
const subRich = {n:{fontSize:12, fontFamily:FONT, fill:AX}, d:{fontSize:9, fontFamily:FONT, fill:AX, padding:[7,0,0,0]}};
FLOW_LEFT.forEach((l,k) => {
  const t = flowTitles[k];
  T(l+54, 763, '{n|' + t[0] + '}{d|' + t[1] + '}{n|' + t[2] + '}', {align:'center', rich:subRich});
  T(l+6, 788, flowQuad[k][0], {color:'#FF0000', size:12});
  T(l+122, 788, flowQuad[k][1], {color:'#FF0000', size:12, align:'right'});
  T(l+6, 898, flowQuad[k][2], {color:'#FF0000', size:12});
  T(l+122, 898, flowQuad[k][3], {color:'#FF0000', size:12, align:'right'});
  T(l-46, 852, 'CCR7 (PE/Dazzle 594)', {size:11.5, align:'center', rot:Math.PI/2});
  L(l-30, 842, l-30, 908);
  L(l+4, 932, l+68, 932);
  T(l+2, 943, 'CD45RA (BV711)', {size:11.5});
});

const chart = echarts.init(document.getElementById('c'), null, {renderer:'canvas', width:797, height:1525});
chart.setOption({animation:false, backgroundColor:'#fff', textStyle:{fontFamily:FONT},
  grid:grids, xAxis:xAxes, yAxis:yAxes, series, graphic:G});
</script></body></html>
